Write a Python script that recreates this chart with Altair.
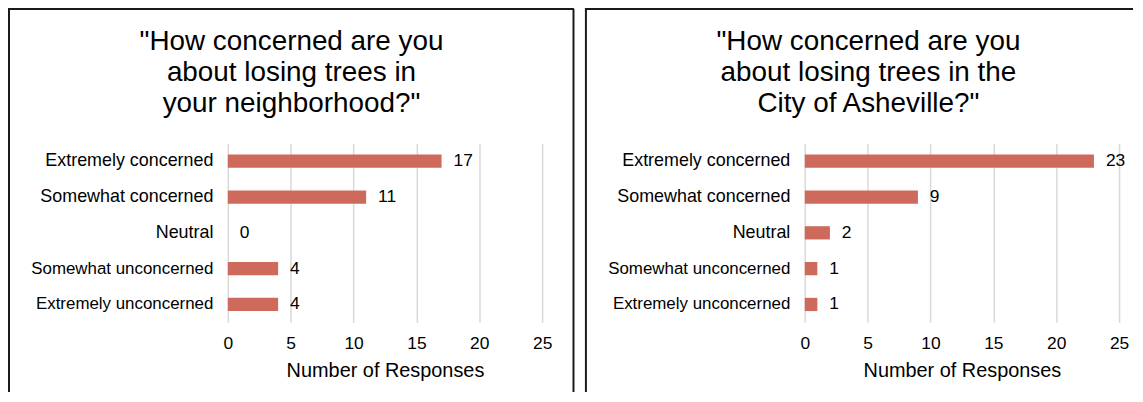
import altair as alt
import pandas as pd

categories = ["Extremely concerned", "Somewhat concerned", "Neutral",
              "Somewhat unconcerned", "Extremely unconcerned"]
neighborhood_counts = [17, 11, 0, 4, 4]
city_counts = [23, 9, 2, 1, 1]
x_ticks = [0, 5, 10, 15, 20, 25]
title_left = ['"How concerned are you', 'about losing trees in', 'your neighborhood?"']
title_right = ['"How concerned are you', 'about losing trees in the', 'City of Asheville?"']
x_title = "Number of Responses"

BAR = "#CD6A5C"
FONT = "Liberation Sans"
W, H = 316, 180


def one_row():
    return alt.Chart(pd.DataFrame({"k": [0]}))


def border(x, y, x2=None, y2=None):
    enc = dict(x=alt.value(x), y=alt.value(y))
    if x2 is not None:
        enc["x2"] = alt.value(x2)
    if y2 is not None:
        enc["y2"] = alt.value(y2)
    return one_row().mark_rule(color="#1a1a1a", strokeWidth=2).encode(**enc)


def panel(counts, title_lines, right_border):
    df = pd.DataFrame({"category": categories, "count": counts})
    base = alt.Chart(df)
    y = alt.Y("category:N", sort=categories,
              scale=alt.Scale(paddingInner=0.63, paddingOuter=0.315),
              axis=alt.Axis(title=None, domain=False, ticks=False, grid=False,
                            labelPadding=15,
                            labelFontSize={"expr": "length(datum.label) > 19 ? 17 : 18"},
                            labelColor="#000", labelFont=FONT, labelLimit=0))
    x = alt.X("count:Q", scale=alt.Scale(domain=[0, 25], nice=False),
              axis=alt.Axis(values=x_ticks, title=x_title, grid=True,
                            gridColor="#d9d9d9", gridWidth=1.5, domain=False,
                            ticks=False, labelPadding=12, labelFontSize=17.5,
                            labelColor="#000", labelFont=FONT, labelFlush=False,
                            titleFontSize=20, titleFontWeight="normal",
                            titleColor="#000", titleFont=FONT, titlePadding=9))
    bars = base.mark_bar(color=BAR).encode(x=x, y=y)
    labels = base.mark_text(align="left", baseline="middle", dx=12, fontSize=17.5,
                            font=FONT, color="#000").encode(
        x="count:Q", y=alt.Y("category:N", sort=categories), text="count:Q")
    title = one_row().mark_text(align="center", baseline="alphabetic", fontSize=28,
                                font=FONT, color="#000", lineHeight=31.5).encode(
        x=alt.value(64), y=alt.value(-94), text=alt.value(title_lines))
    layers = [bars, labels, title,
              border(-220, -135, y2=250)]
    if right_border:
        layers.append(border(-221, -135, x2=348))
        layers.append(border(347.5, -135, y2=250))
    else:
        layers.append(border(-221, -135, x2=330))
    return alt.layer(*layers).properties(width=W, height=H)


left = panel(neighborhood_counts, title_left, True)
right = panel(city_counts, title_right, False)

chart = alt.hconcat(left, right, spacing=7).properties(
    padding={"left": -2, "top": -2, "right": 0, "bottom": 0}
).configure_view(stroke="transparent")

chart.save("out.html", embed_options={"renderer": "svg", "actions": False})
